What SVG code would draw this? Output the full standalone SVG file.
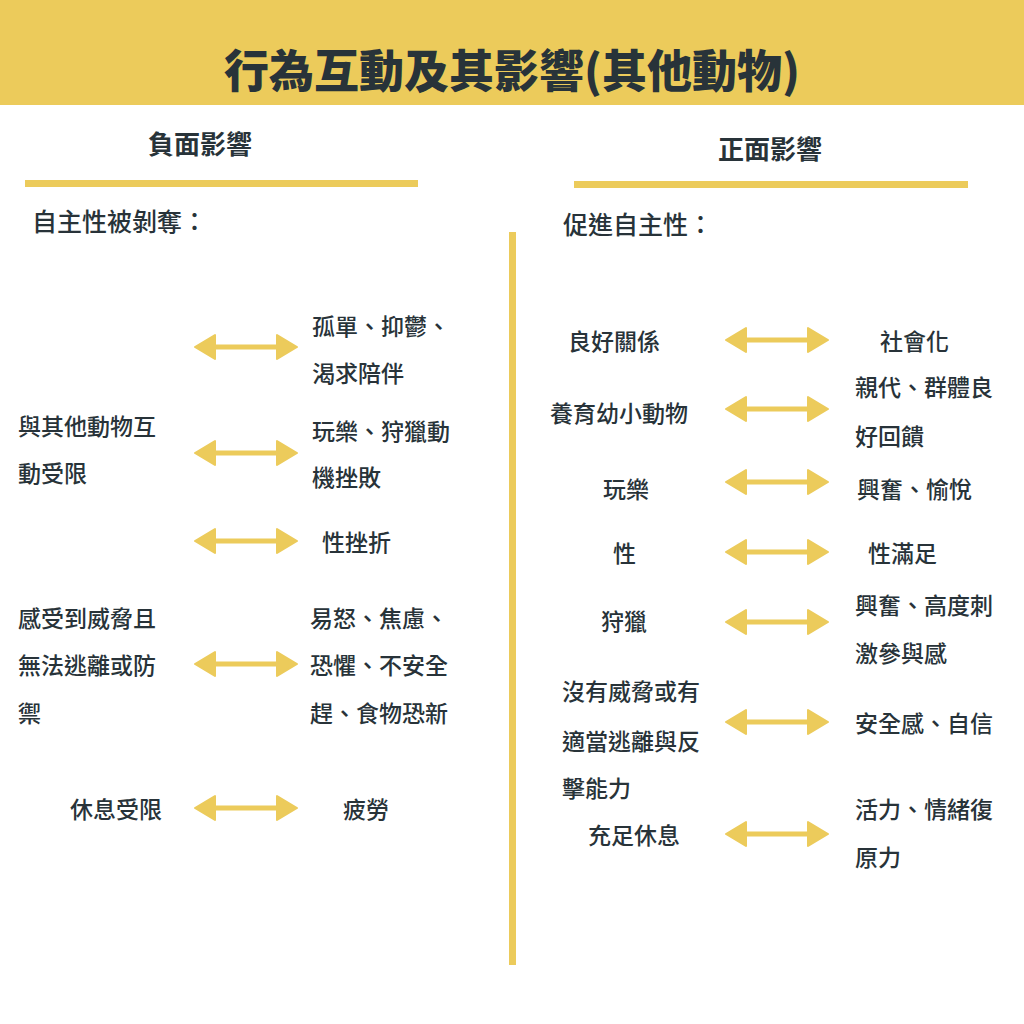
<svg xmlns="http://www.w3.org/2000/svg" width="1024" height="1024" viewBox="0 0 1024 1024">
<style>
text{font-family:"Noto Sans CJK TC","Noto Sans CJK SC",sans-serif;fill:#283339;font-size:23px;font-weight:500;dominant-baseline:central}
.h{font-size:26px;font-weight:700}
.s{font-size:25px}
.t{font-size:45px;font-weight:900}
.y{fill:#ECCB5B}
</style>
<defs>
<g id="arr"><path d="M-32,0H32" stroke="#ECCB5B" stroke-width="5"/><path d="M-51,0L-31,-12L-31,12Z M51,0L31,-12L31,12Z" fill="#ECCB5B" stroke="#ECCB5B" stroke-width="2" stroke-linejoin="round"/></g>
</defs>
<rect class="y" x="0" y="0" width="1024" height="105"/>
<text class="t" x="512" y="68" text-anchor="middle">行為互動及其影響(其他動物)</text>
<g id="headers">
<text class="h" x="200" y="142" text-anchor="middle">負面影響</text>
<text class="h" x="770" y="147" text-anchor="middle">正面影響</text>
<rect class="y" x="25" y="180" width="393" height="7"/>
<rect class="y" x="574" y="181" width="394" height="7"/>
<rect class="y" x="509" y="232" width="7" height="733"/>
<text class="s" x="32" y="220">自主性被剝奪：</text>
<text class="s" x="563" y="223">促進自主性：</text>
</g>
<g id="connectors">
<use href="#arr" x="246" y="347"/>
<use href="#arr" x="246" y="453"/>
<use href="#arr" x="246" y="541"/>
<use href="#arr" x="246" y="664"/>
<use href="#arr" x="246" y="808"/>
<use href="#arr" x="777" y="340"/>
<use href="#arr" x="777" y="409"/>
<use href="#arr" x="777" y="482"/>
<use href="#arr" x="777" y="552"/>
<use href="#arr" x="777" y="622"/>
<use href="#arr" x="777" y="722"/>
<use href="#arr" x="777" y="834"/>
</g>
<g id="left">
<text x="312" y="325">孤單、抑鬱、</text><text x="312" y="372">渴求陪伴</text>
<text x="18" y="425">與其他動物互</text><text x="18" y="472">動受限</text>
<text x="312" y="430">玩樂、狩獵動</text><text x="312" y="476">機挫敗</text>
<text x="322" y="541">性挫折</text>
<text x="18" y="617">感受到威脅且</text><text x="18" y="664">無法逃離或防</text><text x="18" y="712">禦</text>
<text x="310" y="617">易怒、焦慮、</text><text x="310" y="664">恐懼、不安全</text><text x="310" y="712">趕、食物恐新</text>
<text x="70" y="808">休息受限</text><text x="343" y="808">疲勞</text>
</g>
<g id="right">
<text x="568" y="340">良好關係</text><text x="880" y="340">社會化</text>
<text x="550" y="412">養育幼小動物</text><text x="855" y="386">親代、群體良</text><text x="855" y="435">好回饋</text>
<text x="603" y="488">玩樂</text><text x="857" y="488">興奮、愉悅</text>
<text x="613" y="552">性</text><text x="868" y="552">性滿足</text>
<text x="601" y="620">狩獵</text><text x="855" y="604">興奮、高度刺</text><text x="855" y="652">激參與感</text>
<text x="562" y="690">沒有威脅或有</text><text x="562" y="740">適當逃離與反</text><text x="562" y="787">擊能力</text>
<text x="855" y="722">安全感、自信</text>
<text x="588" y="834">充足休息</text><text x="855" y="808">活力、情緒復</text><text x="855" y="856">原力</text>
</g>
</svg>
